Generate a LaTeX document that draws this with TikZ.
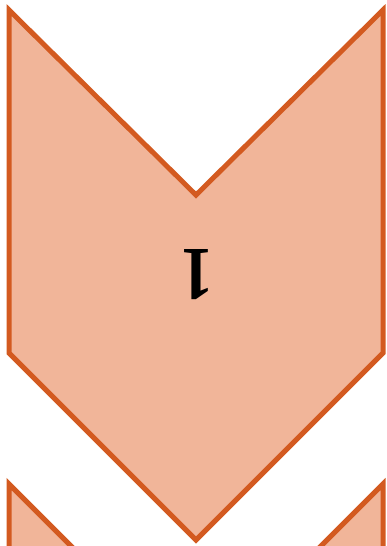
\documentclass[tikz,border=0pt]{standalone}
\usepackage{fontspec}
\setmainfont{Liberation Serif}
\definecolor{chevfill}{RGB}{241,181,153}
\definecolor{chevline}{RGB}{211,90,32}
\begin{document}
\begin{tikzpicture}[x=1pt,y=-1pt,
  chevron/.style={fill=chevfill,draw=chevline,line width=5pt,line join=miter}]
\useasboundingbox (0,0) rectangle (386,546);
\begin{scope}
\clip (0,0) rectangle (386,546);
\draw[chevron] (9,10) -- (196,195) -- (383,10) -- (383,353) -- (196,540) -- (9,353) -- cycle;
\draw[chevron] (9,484) -- (196,671) -- (383,484) -- (383,827) -- (196,1014) -- (9,827) -- cycle;
\end{scope}
\node[rotate=180,xscale=0.85,font=\fontsize{76}{76}\selectfont\bfseries,inner sep=0pt] (num) at (197,275) {1};
\end{tikzpicture}
\end{document}
